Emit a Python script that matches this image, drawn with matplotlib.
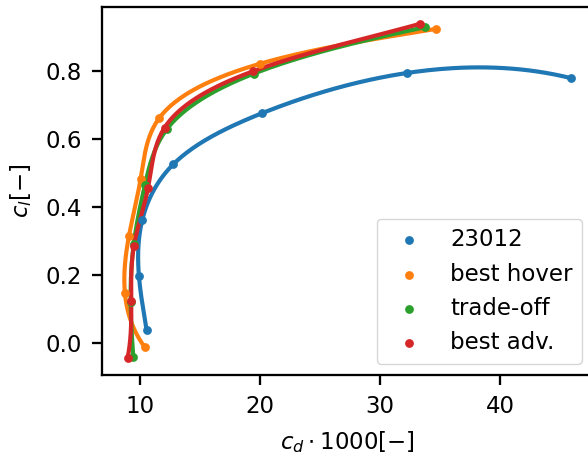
import numpy as np
import matplotlib
matplotlib.use("Agg")
import matplotlib.pyplot as plt

# data (cd*1000, cl)
labels = ["23012", "best hover", "trade-off", "best adv."]
cd_23012 = [10.53, 9.89, 10.17, 12.75, 20.19, 32.25, 45.9]
cl_23012 = [0.038, 0.198, 0.362, 0.526, 0.677, 0.795, 0.780]
cd_hover = [10.39, 8.72, 9.06, 10.03, 11.56, 19.97, 34.7]
cl_hover = [-0.013, 0.148, 0.315, 0.483, 0.661, 0.822, 0.925]
cd_trade = [9.42, 9.20, 9.45, 10.39, 12.25, 19.47, 33.78]
cl_trade = [-0.040, 0.122, 0.290, 0.465, 0.631, 0.793, 0.930]
cd_adv = [8.94, 9.25, 9.47, 10.64, 12.03, 19.40, 33.36]
cl_adv = [-0.045, 0.124, 0.285, 0.455, 0.634, 0.800, 0.940]

colors = ["#1f77b4", "#ff7f0e", "#2ca02c", "#d62728"]


def spline_eval(t, y, n_out=40):
    """Not-a-knot cubic spline y(t) on non-uniform knots t."""
    t = np.asarray(t, float)
    y = np.asarray(y, float)
    n = len(y)
    h = np.diff(t)
    A = np.zeros((n, n))
    r = np.zeros(n)
    A[0, 0:3] = [h[1], -(h[0] + h[1]), h[0]]
    A[-1, -3:] = [h[-1], -(h[-2] + h[-1]), h[-2]]
    for i in range(1, n - 1):
        A[i, i - 1:i + 2] = [h[i - 1], 2 * (h[i - 1] + h[i]), h[i]]
        r[i] = 6 * ((y[i + 1] - y[i]) / h[i] - (y[i] - y[i - 1]) / h[i - 1])
    M = np.linalg.solve(A, r)
    out = []
    for i in range(n - 1):
        tt = np.linspace(t[i], t[i + 1], n_out, endpoint=(i == n - 2))
        a = t[i + 1] - tt
        b = tt - t[i]
        hi = h[i]
        out.append(M[i] * a ** 3 / (6 * hi) + M[i + 1] * b ** 3 / (6 * hi)
                   + (y[i] / hi - M[i] * hi / 6) * a + (y[i + 1] / hi - M[i + 1] * hi / 6) * b)
    return np.concatenate(out)


def smooth_curve(cd, cl):
    cd = np.asarray(cd, float)
    cl = np.asarray(cl, float)
    # centripetal parameter in roughly display-proportional units
    d = np.hypot(np.diff(cd) / 41.0 * 491, np.diff(cl) / 1.08 * 368)
    t = np.concatenate([[0], np.cumsum(np.sqrt(d))])
    return spline_eval(t, cd), spline_eval(t, cl)


k = 2.06  # scale of the reference relative to default point sizes at 100 dpi
fs = 8 * k
plt.rcParams["font.size"] = fs
plt.rcParams["mathtext.fontset"] = "dejavusans"

fig = plt.figure(figsize=(5.88, 4.57), dpi=100)
ax = fig.add_axes([102 / 588, 82 / 457, 491 / 588, 368 / 457])

series = [(cd_23012, cl_23012), (cd_hover, cl_hover), (cd_trade, cl_trade), (cd_adv, cl_adv)]
for (cd, cl), col, lab in zip(series, colors, labels):
    xs, ys = smooth_curve(cd, cl)
    ax.plot(xs, ys, color=col, lw=1.45 * k, zorder=2)
    ax.scatter(cd, cl, color=col, s=40, label=lab, zorder=3, linewidths=0)

ax.set_xticks([10, 20, 30, 40])
ax.set_yticks([0.0, 0.2, 0.4, 0.6, 0.8])
ax.set_xlabel(r"$c_d \cdot 1000[-]$", fontsize=fs, labelpad=4 * k)
ax.set_ylabel(r"$c_l[-]$", fontsize=fs, labelpad=4 * k)
for sp in ax.spines.values():
    sp.set_linewidth(0.8 * k)
ax.tick_params(width=0.8 * k, length=3.5 * k, pad=3.5 * k, labelsize=fs)
ax.legend(loc="lower right", fontsize=fs, scatterpoints=1)

fig.savefig("out.png", dpi=100)
